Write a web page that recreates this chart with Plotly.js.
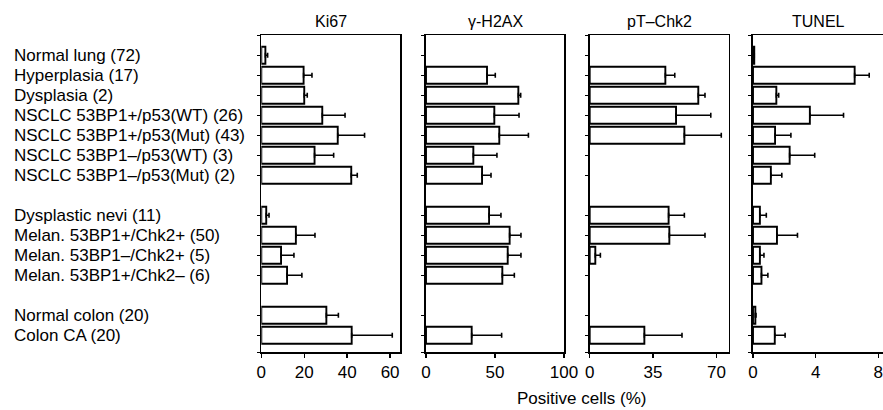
<!DOCTYPE html>
<html>
<head>
<meta charset="utf-8">
<script src="https://cdn.plot.ly/plotly-3.0.1.min.js"></script>
<style>
html,body{margin:0;padding:0;background:#fff;}
#chart{width:883px;height:410px;}
</style>
</head>
<body>
<div id="chart"></div>
<script>
// ---- data ----
const categories = [
  "Normal lung (72)", "Hyperplasia (17)", "Dysplasia (2)",
  "NSCLC 53BP1+/p53(WT) (26)", "NSCLC 53BP1+/p53(Mut) (43)",
  "NSCLC 53BP1\u2013/p53(WT) (3)", "NSCLC 53BP1\u2013/p53(Mut) (2)",
  "Dysplastic nevi (11)", "Melan. 53BP1+/Chk2+ (50)",
  "Melan. 53BP1\u2013/Chk2+ (5)", "Melan. 53BP1+/Chk2\u2013 (6)",
  "Normal colon (20)", "Colon CA (20)"
];
const groups = [0,0,0,0,0,0,0,1,1,1,1,2,2];

const panelTitles = ["Ki67", "\u03b3-H2AX", "pT\u2013Chk2", "TUNEL"];
const xTitle = "Positive cells (%)";

const ki67     = [1.9, 19.7, 20.0, 28.4, 35.6, 24.8, 41.9, 2.3, 16.1, 9.2, 12.0, 30.3, 42.1];
const ki67Err  = [1.05, 3.9, 1.4, 10.6, 12.5, 8.9, 2.8, 1.3, 8.9, 6.0, 6.9, 5.6, 18.9];
const h2ax     = [null, 44.2, 66.9, 49.5, 53.1, 34.3, 40.6, 45.7, 60.6, 59.2, 55.3, null, 33.1];
const h2axErr  = [null, 6.0, 1.7, 17.9, 21.1, 17.1, 6.5, 8.6, 8.2, 9.6, 8.7, null, 21.7];
const chk2     = [null, 41.8, 60.0, 47.7, 52.3, null, null, 43.6, 44.0, 3.1, null, null, 30.2];
const chk2Err  = [null, 5.2, 3.7, 19.2, 20.4, null, null, 8.7, 19.7, 2.8, null, null, 20.8];
const tunel    = [0.08, 6.49, 1.49, 3.63, 1.41, 2.34, 1.14, 0.44, 1.53, 0.44, 0.54, 0.15, 1.39];
const tunelErr = [0, 0.93, 0.15, 2.15, 1.01, 1.6, 0.7, 0.41, 1.31, 0.26, 0.41, 0.04, 0.66];

const ki67Ticks  = [0, 20, 40, 60];
const h2axTicks  = [0, 50, 100];
const chk2Ticks  = [0, 35, 70];
const tunelTicks = [0, 4, 8];

// ---- layout helpers ----
const W = 883, H = 410;
const pos = categories.map((c, i) => i + groups[i]);
const yTop = -1, yBottom = 14.85;

const panels = [
  {vals: ki67,  err: ki67Err,  ticks: ki67Ticks,  range: [0, 64.6],  px: [261.3, 400.0], rightLine: true},
  {vals: h2ax,  err: h2axErr,  ticks: h2axTicks,  range: [0, 100.2], px: [426.0, 564.3], rightLine: true},
  {vals: chk2,  err: chk2Err,  ticks: chk2Ticks,  range: [0, 76.8],  px: [589.7, 728.7], rightLine: true},
  {vals: tunel, err: tunelErr, ticks: tunelTicks, range: [0, 8.3],   px: [753.0, 883.0], rightLine: false}
];

const yDomain = [1 - 352.3 / H, 1 - 35.3 / H];
const FONT = "Liberation Sans, Arial, Helvetica, sans-serif";

const traces = [];
const layout = {
  width: W, height: H,
  margin: {l: 0, r: 0, t: 0, b: 0, pad: 0},
  paper_bgcolor: "#fff", plot_bgcolor: "#fff",
  showlegend: false,
  font: {family: FONT, color: "#000", size: 16},
  annotations: [],
  bargap: 0.15
};

panels.forEach((p, k) => {
  const n = k === 0 ? "" : String(k + 1);
  const xa = "x" + n, ya = "y" + n;
  traces.push({
    type: "bar", orientation: "h",
    x: p.vals, y: pos,
    xaxis: xa, yaxis: ya,
    width: 0.85,
    marker: {color: "#fff", line: {color: "#000", width: 1.9}},
    error_x: {
      type: "data", symmetric: false,
      array: p.err, arrayminus: p.err.map(v => v === null ? null : 0),
      color: "#000", thickness: 1.6, width: 2.5
    },
    hoverinfo: "skip", cliponaxis: false
  });
  layout["xaxis" + n] = {
    domain: [p.px[0] / W, p.px[1] / W],
    anchor: ya, range: p.range, fixedrange: true,
    showgrid: false, zeroline: false,
    showline: true, linecolor: "#000", linewidth: 1.6,
    mirror: true,
    ticks: "outside", ticklen: 4, tickwidth: 1.4, tickcolor: "#000",
    tickmode: "array", tickvals: p.ticks,
    tickfont: {family: FONT, size: 17, color: "#000"},
    ticklabelstandoff: 0,
    ticklabeloverflow: "allow"
  };
  layout["yaxis" + n] = {
    domain: yDomain, anchor: xa,
    range: [yBottom, yTop], fixedrange: true,
    showgrid: false, zeroline: false,
    showline: true, linecolor: "#000", linewidth: 1.6,
    mirror: p.rightLine,
    ticks: "outside", ticklen: 3, tickwidth: 1.4, tickcolor: "#000",
    tickmode: "array", tickvals: pos.concat([yTop, yBottom]),
    showticklabels: false
  };
  layout.annotations.push({
    xref: "paper", yref: "paper",
    x: ((p.px[0] + p.px[1]) / 2) / W, y: 1 - 21 / H,
    xanchor: "center", yanchor: "middle",
    text: panelTitles[k], showarrow: false,
    font: {family: FONT, size: 16, color: "#000"}
  });
});

categories.forEach((c, i) => {
  layout.annotations.push({
    xref: "paper", yref: "y",
    x: 12 / W, y: pos[i],
    xanchor: "left", yanchor: "middle",
    text: c, showarrow: false,
    font: {family: FONT, size: 17, color: "#000"}
  });
});

layout.annotations.push({
  xref: "paper", yref: "paper",
  x: 581 / W, y: 1 - 398 / H,
  xanchor: "center", yanchor: "middle",
  text: xTitle, showarrow: false,
  font: {family: FONT, size: 17, color: "#000"}
});

Plotly.newPlot("chart", traces, layout, {staticPlot: true, displayModeBar: false});
</script>
</body>
</html>
